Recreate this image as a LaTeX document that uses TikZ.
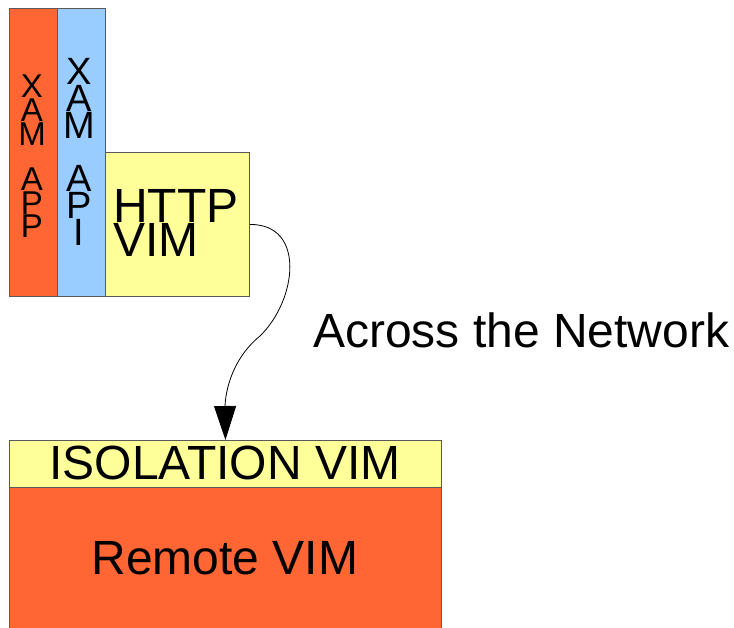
\documentclass[tikz,border=0pt]{standalone}
\usepackage{fontspec}
\setmainfont{Liberation Sans}
\usetikzlibrary{arrows.meta}
\definecolor{boxred}{HTML}{FF6633}
\definecolor{boxblue}{HTML}{99CCFF}
\definecolor{boxyellow}{HTML}{FFFF99}
\definecolor{boxline}{HTML}{5A5A5A}
\tikzset{
  layer/.style={draw=boxline, line width=0.9pt, inner sep=0pt, anchor=north west},
  label/.style={inner sep=0pt, text=black},
  link/.style={draw=black, line width=0.8pt, -{Triangle[width=22pt,length=34pt]}}
}
\begin{document}
\begin{tikzpicture}[x=1pt,y=-1pt]
  \useasboundingbox (0,0) rectangle (734,627);
  % local stack
  \node[layer, fill=boxred, minimum width=48pt, minimum height=288pt] (app) at (9,8) {};
  \node[layer, fill=boxblue, minimum width=48pt, minimum height=288pt] (api) at (57,8) {};
  \node[layer, fill=boxyellow, minimum width=144pt, minimum height=144pt] (http) at (105,152) {};
  % remote side
  \node[layer, fill=boxred, minimum width=432pt, minimum height=145pt] (remote) at (9,487) {};
  \node[layer, fill=boxyellow, minimum width=432pt, minimum height=47pt] (iso) at (9,440) {};
  % texts
  \node[label, anchor=north, align=center, font=\fontsize{33}{21.3}\selectfont] (apptext) at (32,75) {X\\A\\M\\\mbox{}\\A\\P\\P};
  \node[label, anchor=north, align=center, font=\fontsize{38}{25.5}\selectfont] (apitext) at (79,58) {X\\A\\M\\\mbox{}\\A\\P\\I};
  \node[label, anchor=north west, align=left, font=\fontsize{48}{32}\selectfont] (httptext) at (113,189) {HTTP\\VIM};
  \node[label, font=\fontsize{48}{50}\selectfont] (isotext) at (225,463) {ISOLATION VIM};
  \node[label, font=\fontsize{48}{50}\selectfont] (remotetext) at (225,558.5) {Remote VIM};
  \node[label, anchor=base west, font=\fontsize{48}{50}\selectfont] (net) at (313,347) {Across the Network};
  % connector
  \draw[link] (http.east) .. controls (306,224) and (297,300) .. (260,336)
                          .. controls (228,362) and (225,400) .. (iso.north);
\end{tikzpicture}
\end{document}
